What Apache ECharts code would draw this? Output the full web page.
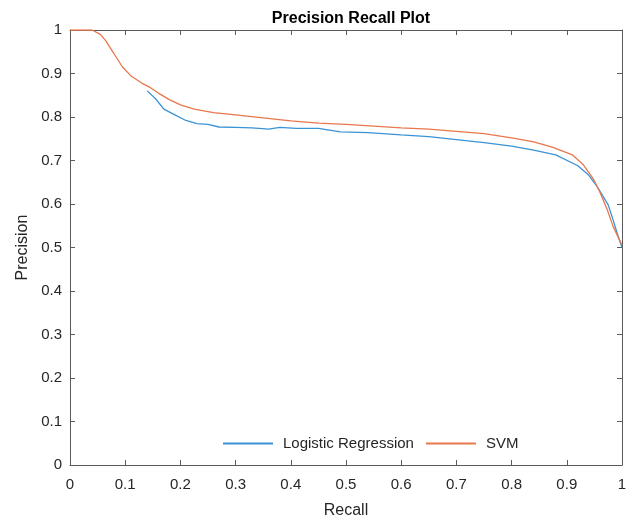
<!DOCTYPE html>
<html>
<head>
<meta charset="utf-8">
<script src="https://cdn.jsdelivr.net/npm/echarts@6/dist/echarts.min.js"></script>
<style>
  html, body { margin: 0; padding: 0; background: #fff; }
  #chart { width: 634px; height: 517px; }
</style>
</head>
<body>
<div id="chart"></div>
<script>
// values: recall / precision pairs
const svmRecall = [0, 0.04, 0.055, 0.065, 0.075, 0.085, 0.095, 0.11, 0.13, 0.145, 0.16, 0.18, 0.2, 0.225, 0.26, 0.3, 0.35, 0.4, 0.45, 0.5, 0.55, 0.6, 0.65, 0.7, 0.75, 0.8, 0.84, 0.875, 0.91, 0.93, 0.948, 0.96, 0.973, 0.984, 1.0];
const svmPrecision = [1, 1, 0.99, 0.975, 0.955, 0.935, 0.915, 0.895, 0.878, 0.868, 0.855, 0.84, 0.828, 0.818, 0.81, 0.805, 0.798, 0.791, 0.786, 0.783, 0.779, 0.775, 0.772, 0.767, 0.762, 0.752, 0.743, 0.73, 0.713, 0.69, 0.658, 0.627, 0.588, 0.548, 0.505];
const lrRecall = [0.14, 0.155, 0.17, 0.19, 0.21, 0.23, 0.25, 0.27, 0.3, 0.33, 0.36, 0.38, 0.41, 0.45, 0.49, 0.54, 0.6, 0.65, 0.7, 0.75, 0.8, 0.84, 0.88, 0.92, 0.94, 0.955, 0.966, 0.975, 0.984, 0.992, 1.0];
const lrPrecision = [0.86, 0.842, 0.818, 0.805, 0.792, 0.785, 0.783, 0.777, 0.776, 0.775, 0.772, 0.776, 0.774, 0.774, 0.766, 0.764, 0.759, 0.755, 0.748, 0.741, 0.733, 0.724, 0.713, 0.688, 0.666, 0.64, 0.617, 0.598, 0.563, 0.53, 0.5];
const seriesNames = ['Logistic Regression', 'SVM'];

const pairs = (xs, ys) => xs.map((x, i) => [x, ys[i]]);

const chart = echarts.init(document.getElementById('chart'));
const axisColor = '#5a5a5a';
const fontColor = '#262626';
const fontFamily = 'Liberation Sans, Arial, sans-serif';

const baseAxis = {
  type: 'value',
  min: 0,
  max: 1,
  interval: 0.1,
  axisLine: { show: true, onZero: false, lineStyle: { color: axisColor, width: 1 } },
  axisTick: { show: true, inside: true, length: 5, lineStyle: { color: axisColor } },
  splitLine: { show: false },
  axisLabel: {
    color: fontColor,
    fontSize: 15,
    fontFamily: fontFamily,
    formatter: v => String(Math.round(v * 10) / 10)
  }
};

const option = {
  animation: false,
  title: {
    text: 'Precision Recall Plot',
    left: 346,
    textAlign: 'center',
    top: 6,
    textStyle: { color: '#000', fontSize: 16, fontWeight: 'bold', fontFamily: fontFamily }
  },
  grid: { left: 70, right: 12, top: 30, bottom: 52, containLabel: false, outerBoundsMode: 'none' },
  legend: {
    data: seriesNames,
    top: 431,
    left: 218,
    itemWidth: 50,
    itemHeight: 2,
    itemGap: 12,
    icon: 'rect',
    textStyle: { color: fontColor, fontSize: 15, fontFamily: fontFamily, padding: [0, 0, 0, 5] }
  },
  xAxis: [
    Object.assign({}, baseAxis, {
      position: 'bottom',
      name: 'Recall',
      nameLocation: 'middle',
      nameGap: 38,
      nameTextStyle: { color: fontColor, fontSize: 16, fontFamily: fontFamily },
      axisLabel: Object.assign({}, baseAxis.axisLabel, { margin: 12 })
    }),
    Object.assign({}, baseAxis, { position: 'top', axisLabel: { show: false } })
  ],
  yAxis: [
    Object.assign({}, baseAxis, {
      position: 'left',
      name: 'Precision',
      nameLocation: 'middle',
      nameGap: 38,
      nameTextStyle: { color: fontColor, fontSize: 16, fontFamily: fontFamily },
      axisLabel: Object.assign({}, baseAxis.axisLabel, { margin: 8 })
    }),
    Object.assign({}, baseAxis, { position: 'right', axisLabel: { show: false } })
  ],
  series: [
    {
      name: seriesNames[0],
      type: 'line',
      data: pairs(lrRecall, lrPrecision),
      showSymbol: false,
      symbol: 'none',
      color: '#3a93d4',
      lineStyle: { width: 1.3 }
    },
    {
      name: seriesNames[1],
      type: 'line',
      data: pairs(svmRecall, svmPrecision),
      showSymbol: false,
      symbol: 'none',
      color: '#e7774c',
      lineStyle: { width: 1.3 }
    }
  ]
};

chart.setOption(option);
</script>
</body>
</html>
